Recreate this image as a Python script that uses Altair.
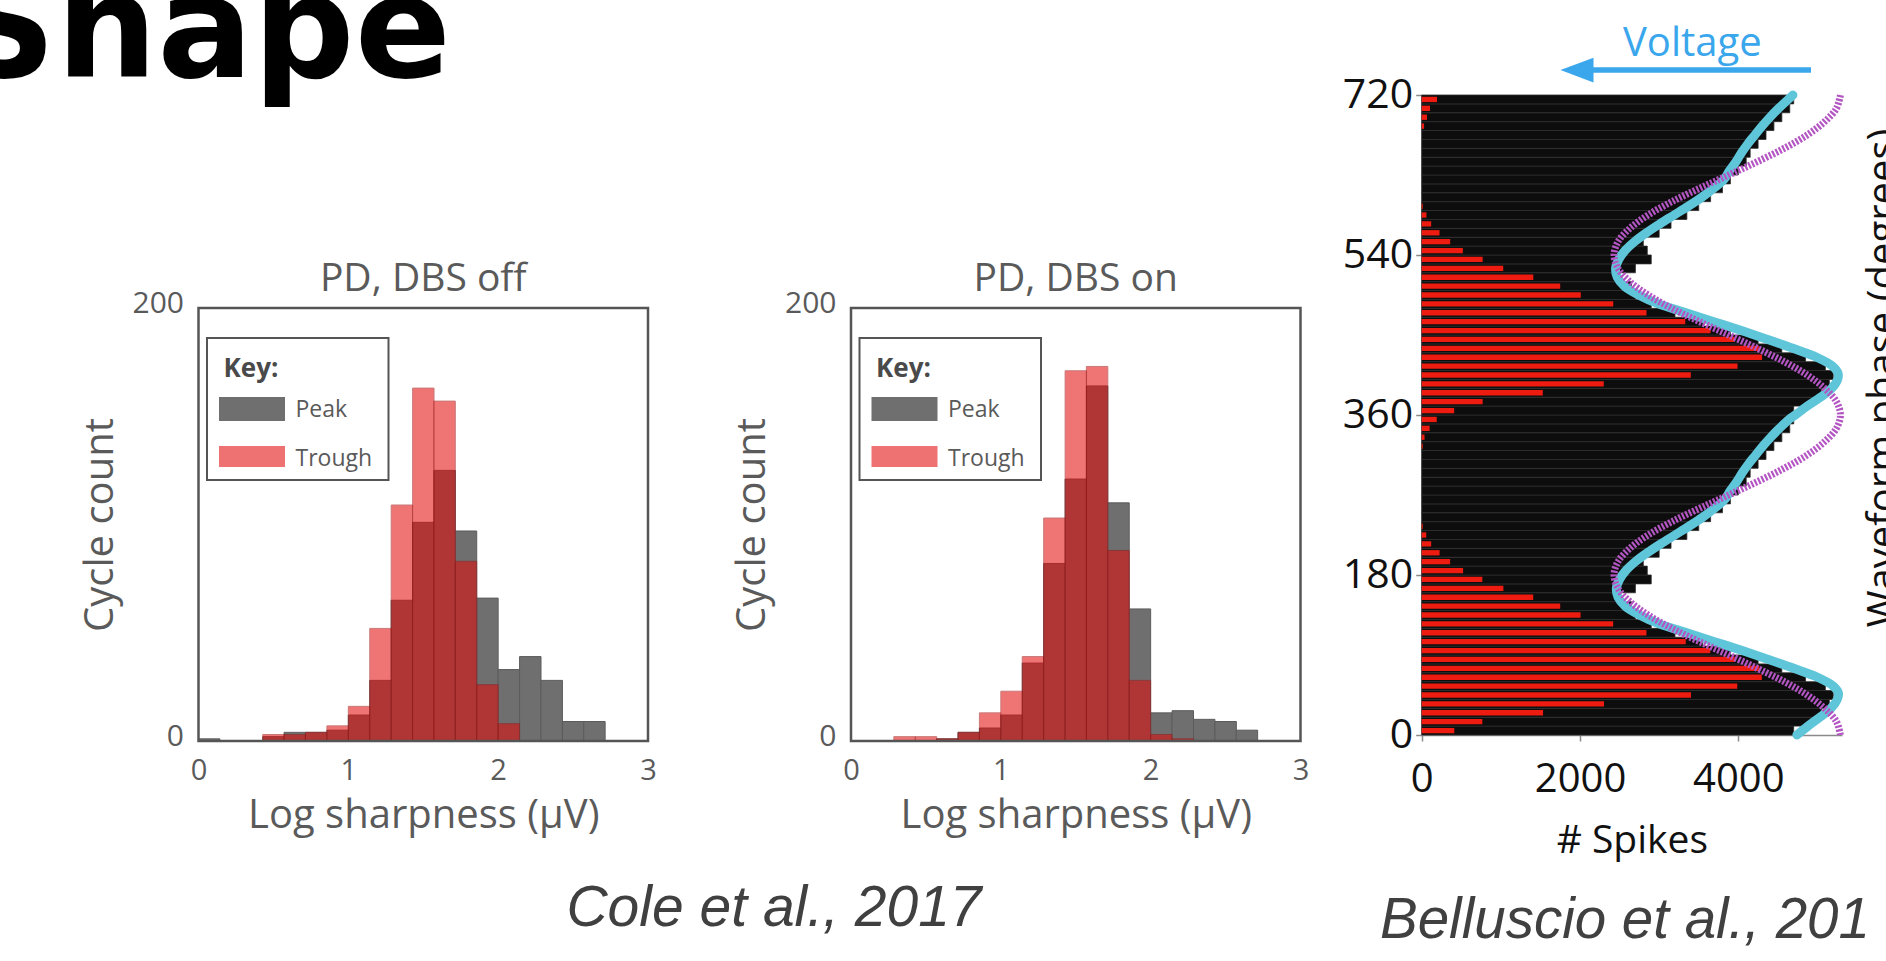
import altair as alt
import pandas as pd

W, H = 1886, 961
FONT = "Open Sans"
GRAY_TXT = "#5a5a5a"

# ---------------- Cole et al., 2017 : histograms of log sharpness ----------------
bin_start = [0.000, 0.143, 0.286, 0.429, 0.571, 0.714, 0.857, 1.000, 1.143, 1.286, 1.429,
             1.571, 1.714, 1.857, 2.000, 2.143, 2.286, 2.429, 2.571, 2.714, 2.857]
BIN_W = 0.1429
off_peak = [1, 0, 0, 2, 4, 4, 5, 12, 28, 65, 101, 125, 97, 66, 33, 39, 28, 9, 9, 0, 0]
off_trough = [0, 0, 0, 3, 3, 4, 7, 16, 52, 109, 163, 157, 83, 26, 8, 0, 0, 0, 0, 0, 0]
on_peak = [0, 0, 0, 0, 1, 4, 6, 12, 36, 82, 121, 164, 110, 61, 13, 14, 10, 9, 5, 0, 0]
on_trough = [0, 0, 2, 2, 1, 4, 13, 23, 39, 103, 171, 173, 88, 28, 3, 1, 0, 0, 0, 0, 0]
x_ticks = [0, 1, 2, 3]
y_ticks = [0, 200]

# ---------------- Belluscio et al. : spikes vs waveform phase ----------------
phase_bins = list(range(0, 720, 10))
black_spikes = [4700, 4950, 5050, 5150, 5200, 5100, 4850, 4550, 4250, 3900, 3550, 3200,
                2900, 2700, 2650, 2500, 2700, 2900, 2850, 2800, 3000, 3150, 3350, 3500,
                3650, 3800, 3900, 4000, 4100, 4150, 4250, 4350, 4450, 4550, 4650, 4700,
                4700, 4950, 5050, 5150, 5200, 5100, 4850, 4550, 4250, 3900, 3550, 3200,
                2900, 2700, 2650, 2500, 2700, 2900, 2850, 2800, 3000, 3150, 3350, 3500,
                3650, 3800, 3900, 4000, 4100, 4150, 4250, 4350, 4450, 4550, 4650, 4700]
red_spikes = [412, 766, 1533, 2303, 3402, 3987, 4297, 4266, 3956, 3646, 3336, 2839,
              2419, 2007, 1750, 1409, 1032, 766, 523, 359, 226, 120, 58, 13,
              0, 0, 0, 0, 0, 0, 0, 0, 13, 36, 100, 190,
              410, 770, 1530, 2300, 3400, 3990, 4300, 4260, 3950, 3650, 3330, 2840,
              2420, 2010, 1750, 1410, 1030, 770, 520, 360, 225, 120, 60, 13,
              0, 0, 0, 0, 0, 0, 0, 0, 30, 67, 105, 193]
cyan_phase = [0, 10, 20, 30, 40, 47, 55, 65, 75, 85, 95, 105, 115, 125, 135, 145, 155, 165,
              175, 185, 195, 205, 215, 225, 235, 245, 255, 265, 275, 285, 295, 305, 315,
              325, 335, 345, 355,
              360, 370, 380, 390, 400, 407, 415, 425, 435, 445, 455, 465, 475, 485, 495,
              505, 515, 525, 535, 545, 555, 565, 575, 585, 595, 605, 615, 625, 635, 645,
              655, 665, 675, 685, 695, 705, 715, 720]
cyan_spikes = [4740, 4880, 5030, 5170, 5250, 5265, 5200, 5000, 4700, 4380, 4050, 3700, 3350,
               3000, 2750, 2570, 2480, 2460, 2500, 2580, 2700, 2850, 3020, 3200, 3380, 3550,
               3700, 3830, 3900, 3980, 4050, 4130, 4220, 4310, 4410, 4520, 4640,
               4720, 4870, 5040, 5180, 5255, 5260, 5190, 4990, 4690, 4370, 4040, 3690, 3340,
               2990, 2740, 2560, 2470, 2450, 2490, 2570, 2690, 2840, 3010, 3190, 3370, 3540,
               3690, 3820, 3890, 3970, 4040, 4120, 4210, 4300, 4400, 4510, 4630, 4690]
purple_phase = list(range(0, 721, 15))
purple_spikes = [5290, 5240, 5090, 4870, 4580, 4240, 3880, 3510, 3160, 2860, 2630, 2480,
                 2430, 2480, 2630, 2860, 3160, 3510, 3880, 4240, 4580, 4870, 5090, 5240,
                 5290, 5240, 5090, 4870, 4580, 4240, 3880, 3510, 3160, 2860, 2630, 2480,
                 2430, 2480, 2630, 2860, 3160, 3510, 3880, 4240, 4580, 4870, 5090, 5240,
                 5290]
spike_ticks = [0, 2000, 4000]
phase_ticks = [0, 180, 360, 540, 720]

one = pd.DataFrame({"k": [0]})


def label(text, x, y, **kw):
    kw.setdefault("baseline", "alphabetic")
    return alt.Chart(one).mark_text(text=text, **kw).encode(x=alt.value(x), y=alt.value(y))


def box(x1, x2, y1, y2, **kw):
    return alt.Chart(one).mark_rect(**kw).encode(
        x=alt.value(x1), x2=alt.value(x2), y=alt.value(y1), y2=alt.value(y2))


def hist_panel(peak, trough, title, left, right, top=308, bottom=741):
    df = pd.DataFrame({"lo": bin_start, "peak": peak, "trough": trough})
    df["hi"] = df["lo"] + BIN_W
    df["zero"] = 0
    xs = alt.Scale(domain=[0, 3], range=[left, right], nice=False, zero=False)
    ys = alt.Scale(domain=[0, 200], range=[bottom, top], nice=False, zero=False)
    xax = alt.Axis(orient="bottom", offset=bottom - H, values=x_ticks, format="d",
                   title="Log sharpness (μV)", grid=False, domain=False, ticks=False,
                   labelFont=FONT, labelFontSize=29, labelColor=GRAY_TXT, labelPadding=15,
                   labelFlush=False, titleFont=FONT, titleFontSize=40, titleFontWeight="normal",
                   titleColor=GRAY_TXT, titlePadding=10)
    yax = alt.Axis(orient="left", offset=-left, values=y_ticks, format="d",
                   title="Cycle count", grid=False, domain=False, ticks=False,
                   labelFont=FONT, labelFontSize=30, labelColor=GRAY_TXT, labelPadding=15,
                   labelFlush=False, labelOffset=-5, titleFont=FONT, titleFontSize=40,
                   titleFontWeight="normal", titleColor=GRAY_TXT, titlePadding=12)
    base = alt.Chart(df)
    gray = base.transform_filter("datum.peak > 0").mark_rect(
        color="#6f6f6f", stroke="#5c5c5c", strokeWidth=1).encode(
        x=alt.X("lo:Q", scale=xs, axis=xax), x2="hi:Q",
        y=alt.Y("peak:Q", scale=ys, axis=yax), y2="zero:Q")
    red = base.transform_filter("datum.trough > 0").mark_rect(
        color="#e40808", opacity=0.56, stroke="#a01010", strokeWidth=1).encode(
        x=alt.X("lo:Q", scale=xs, axis=xax), x2="hi:Q",
        y=alt.Y("trough:Q", scale=ys, axis=yax), y2="zero:Q")
    fdf = pd.DataFrame({"x0": [0], "x1": [3], "y0": [0], "y1": [200]})
    frame = alt.Chart(fdf).mark_rect(fillOpacity=0, stroke="#555555", strokeWidth=2.5).encode(
        x=alt.X("x0:Q", scale=xs, axis=xax), x2="x1:Q",
        y=alt.Y("y0:Q", scale=ys, axis=yax), y2="y1:Q")
    L = left
    legend = [
        box(L + 8.5, L + 190, 338, 480, fill="white", stroke="#555555", strokeWidth=2),
        label("Key:", L + 25, 377, font=FONT, fontSize=26, fontWeight="bold", color="#4a4a4a", align="left"),
        box(L + 20.5, L + 86.5, 397, 421, fill="#6f6f6f"),
        label("Peak", L + 97, 417, font=FONT, fontSize=23, color=GRAY_TXT, align="left"),
        box(L + 20.5, L + 86.5, 446, 467, fill="#ef7272"),
        label("Trough", L + 97, 466, font=FONT, fontSize=23, color=GRAY_TXT, align="left"),
        label(title, (left + right) / 2, 291, font=FONT, fontSize=39, color=GRAY_TXT, align="center"),
    ]
    return alt.layer(gray, red, frame, *legend)


panel_off = hist_panel(off_peak, off_trough, "PD, DBS off", 198.5, 648)
panel_on = hist_panel(on_peak, on_trough, "PD, DBS on", 851, 1300.5)

# ---------------- right panel ----------------
bdf = pd.DataFrame({"start": phase_bins, "black": black_spikes, "red": red_spikes})
bdf["end"] = bdf["start"] + 10
bdf["rlo"] = bdf["start"] + 2
bdf["rhi"] = bdf["start"] + 8
bdf["zero"] = 0
cdf = pd.DataFrame({"phase": cyan_phase, "spikes": cyan_spikes})
pdf = pd.DataFrame({"phase": purple_phase, "spikes": purple_spikes})

P_LEFT, P_RIGHT, P_TOP, P_BOTTOM = 1421.7, 1842, 95, 735
sx = alt.Scale(domain=[0, 5310], range=[P_LEFT, P_RIGHT], nice=False, zero=False)
sy = alt.Scale(domain=[0, 720], range=[P_BOTTOM, P_TOP], nice=False, zero=False)
sxax = alt.Axis(orient="bottom", offset=P_BOTTOM - H, values=spike_ticks, format="d",
                title="# Spikes", grid=False, domainColor="#8a8a8a", domainWidth=1.5,
                tickColor="#8a8a8a", tickSize=6, tickWidth=1.5, labelFont=FONT, labelFontSize=40,
                labelColor="#111111", labelPadding=18, labelFlush=False, titleFont=FONT,
                titleFontSize=39, titleFontWeight="normal", titleColor="#111111", titlePadding=22)
syax = alt.Axis(orient="left", offset=-P_LEFT, values=phase_ticks, format="d", title=None,
                grid=False, domainColor="#8a8a8a", domainWidth=1.5, tickColor="#8a8a8a",
                tickSize=6, tickWidth=1.5, labelFont=FONT, labelFontSize=41,
                labelColor="#111111", labelPadding=3, labelFlush=False)

bbase = alt.Chart(bdf)
black = bbase.mark_rect(color="#0d0d0d", stroke="#2e2e2e", strokeWidth=0.8).encode(
    x=alt.X("zero:Q", scale=sx, axis=sxax), x2="black:Q",
    y=alt.Y("start:Q", scale=sy, axis=syax), y2="end:Q")
redb = bbase.transform_filter("datum.red > 0").mark_rect(color="#ee1c10").encode(
    x=alt.X("zero:Q", scale=sx, axis=sxax), x2="red:Q",
    y=alt.Y("rlo:Q", scale=sy, axis=syax), y2="rhi:Q")
cyan = alt.Chart(cdf).mark_line(color="#5fc6da", strokeWidth=9, strokeCap="round",
                                 interpolate="catmull-rom").encode(
    x=alt.X("spikes:Q", scale=sx, axis=sxax), y=alt.Y("phase:Q", scale=sy, axis=syax),
    order="phase:Q")
purple = alt.Chart(pdf).mark_line(color="#b455c4", strokeWidth=7, strokeDash=[2.2, 1.6],
                                   interpolate="catmull-rom").encode(
    x=alt.X("spikes:Q", scale=sx, axis=sxax), y=alt.Y("phase:Q", scale=sy, axis=syax),
    order="phase:Q")
panel_bel = alt.layer(black, redb, cyan, purple)

BLUE = "#3aa6ec"
annotations = [
    label("Shape", 451, 77, font="DejaVu Sans", fontSize=142, fontWeight="bold", color="#000000",
          align="right"),
    label("Cole et al., 2017", 774, 926, font="Liberation Sans", fontSize=57, fontStyle="italic",
          color="#404040", align="center"),
    label("Belluscio et al., 201", 1380, 938, font="Liberation Sans", fontSize=56.5,
          fontStyle="italic", color="#404040", align="left"),
    label("Voltage", 1623, 56, font=FONT, fontSize=40, color=BLUE, align="left"),
    alt.Chart(one).mark_rule(color=BLUE, strokeWidth=5.5).encode(
        x=alt.value(1590), x2=alt.value(1811), y=alt.value(70)),
    alt.Chart(one).mark_point(shape="M -1 0 L 1 -0.75 L 1 0.75 Z", filled=True, color=BLUE,
                              opacity=1, size=1089).encode(x=alt.value(1577), y=alt.value(70)),
    label("Waveform phase (degrees)", 1896, 378, font=FONT, fontSize=40, color="#111111",
          align="center", angle=270),
]

chart = alt.layer(panel_off, panel_on, panel_bel, *annotations).resolve_scale(
    x="independent", y="independent"
).properties(
    width=W, height=H, padding=0, autosize=alt.AutoSizeParams(type="none"), background="white"
).configure_view(strokeWidth=0)

chart.save("out.html", embed_options={"renderer": "svg", "actions": False})
